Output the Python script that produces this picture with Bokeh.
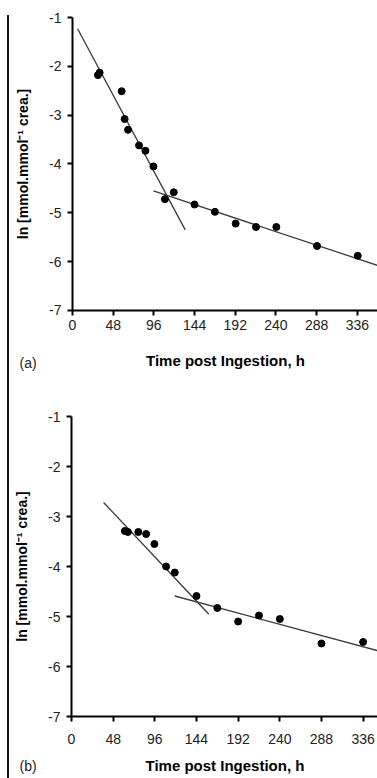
from bokeh.plotting import figure
from bokeh.models import Range1d, FixedTicker, Label, Div, CustomJSTickFormatter, LinearAxis
from bokeh.layouts import column, row
from bokeh.embed import file_html
from bokeh.resources import INLINE

# ---- data ----
x_ticks = [0, 48, 96, 144, 192, 240, 288, 336]
y_ticks = [-7, -6, -5, -4, -3, -2, -1]

# panel (a)
time_a = [30, 32, 58, 61.5, 65.5, 78.5, 86, 95.5, 109, 119.5, 144, 168, 192.5, 216.5, 240.5, 288.5, 336.5]
ln_a = [-2.18, -2.13, -2.51, -3.08, -3.30, -3.62, -3.73, -4.05, -4.72, -4.58, -4.83, -4.98, -5.22, -5.29, -5.29, -5.68, -5.88]
fit1_a_x = [6, 133]
fit1_a_y = [-1.23, -5.35]
fit2_a_x = [95.5, 362]
fit2_a_y = [-4.55, -6.09]

# panel (b)
time_b = [61.5, 65, 77, 86, 95.5, 109, 119, 144, 168, 192, 216, 240, 288, 336]
ln_b = [-3.29, -3.31, -3.31, -3.35, -3.55, -4.00, -4.12, -4.59, -4.83, -5.10, -4.98, -5.05, -5.54, -5.51]
fit1_b_x = [37, 158]
fit1_b_y = [-2.72, -4.95]
fit2_b_x = [119, 354]
fit2_b_y = [-4.59, -5.69]

x_label = "Time post Ingestion, h"
y_label = "ln [mmol.mmol\u207b\u00b9 crea.]"
FONT = "Liberation Sans"


def panel(tx, ly, f1x, f1y, f2x, f2y, x_end, xr, yr, w, h,
          tick_standoff, label_standoff, tag, tag_x, tag_y):
    p = figure(width=w, height=h, x_range=Range1d(*xr), y_range=Range1d(*yr),
               output_backend="svg", toolbar_location=None,
               x_axis_location=None, y_axis_location=None,
               min_border_left=0, min_border_right=0,
               min_border_top=0, min_border_bottom=0)
    p.outline_line_color = None
    p.xgrid.visible = False
    p.ygrid.visible = False
    p.background_fill_color = "white"
    p.border_fill_color = "white"

    p.line(f1x, f1y, line_color="#3a3a3a", line_width=1.3)
    p.line(f2x, f2y, line_color="#3a3a3a", line_width=1.3)
    p.scatter(tx, ly, size=7, color="black")

    xaxis = LinearAxis(fixed_location=-7, bounds=(0, x_end),
                       ticker=FixedTicker(ticks=x_ticks), axis_label=x_label)
    yaxis = LinearAxis(fixed_location=0, bounds=(-7, -1),
                       ticker=FixedTicker(ticks=y_ticks), axis_label=y_label)
    for ax in (xaxis, yaxis):
        ax.formatter = CustomJSTickFormatter(code="return tick.toString()")
        ax.axis_line_width = 2
        ax.axis_line_color = "black"
        ax.major_tick_line_width = 2
        ax.major_tick_line_color = "black"
        ax.major_tick_out = 5
        ax.major_tick_in = 0
        ax.minor_tick_out = 0
        ax.minor_tick_in = 0
        ax.major_label_text_font = FONT
        ax.major_label_text_font_size = "14px"
        ax.major_label_text_color = "#222222"
        ax.axis_label_text_font = FONT
        ax.axis_label_text_font_style = "bold"
        ax.axis_label_text_color = "black"
    xaxis.axis_label_text_font_size = "15px"
    yaxis.axis_label_text_font_size = "14px"
    xaxis.major_label_standoff = tick_standoff
    yaxis.major_label_standoff = 6
    xaxis.axis_label_standoff = label_standoff
    yaxis.axis_label_standoff = 15
    p.add_layout(xaxis, "below")
    p.add_layout(yaxis, "left")

    p.add_layout(Label(x=tag_x, y=tag_y, text=tag, text_font=FONT,
                       text_font_size="14px", text_baseline="middle",
                       text_align="left", text_color="#222222"))
    return p


W = 365
# panel (a): canvas W x 390, x 0 -> 58 px from left edge; y -1 -> 17 px from top, 48.83 px/unit
ka, sa = (W - 1 - 58) / 361, 48.83
pa = panel(time_a, ln_a, fit1_a_x, fit1_a_y, fit2_a_x, fit2_a_y, 361,
           (-58 / ka, (W - 58) / ka), (-1 - (390 - 17) / sa, -1 + 17 / sa), W, 390,
           5, 18, "(a)", -53 / ka, -1 - (362 - 17) / sa)

# panel (b): canvas W x 386, x 0 -> 57 px; y -1 -> 26 px from top, 50 px/unit
kb, sb = (W - 1 - 57) / 353.7, 50.0
pb = panel(time_b, ln_b, fit1_b_x, fit1_b_y, fit2_b_x, fit2_b_y, 353.7,
           (-57 / kb, (W - 57) / kb), (-1 - (386 - 26) / sb, -1 + 26 / sb), W, 386,
           12, 10, "(b)", -52 / kb, -1 - (375 - 26) / sb)

bar = Div(text='<div style="width:2px;height:766px;margin-left:2px;margin-top:10px;background:#111"></div>',
          width=4, height=776)

layout = row(bar, column(pa, pb, spacing=0), spacing=0)

open("out.html", "w").write(file_html(layout, INLINE))
